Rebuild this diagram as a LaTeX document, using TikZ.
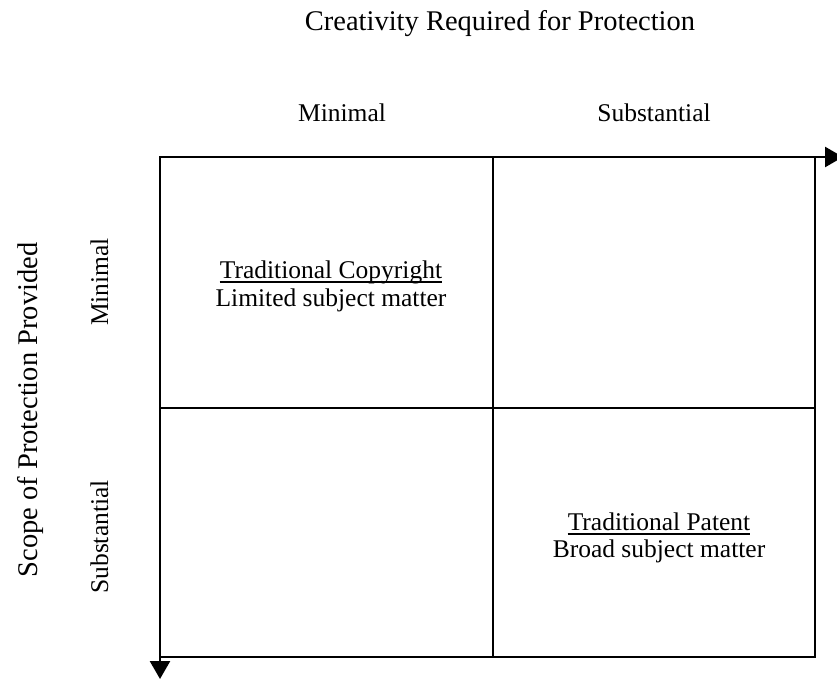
\documentclass[tikz,border=0pt]{standalone}
\usepackage{fontspec}
\setmainfont{Liberation Serif}
\usetikzlibrary{arrows.meta}

\tikzset{
  lbl/.style={font=\fontsize{25.5}{28}\selectfont, inner sep=0pt, anchor=base},
  axislbl/.style={font=\fontsize{28.5}{32}\selectfont, inner sep=0pt, anchor=base},
  axis/.style={line width=2.6pt, miter limit=10,
    {Triangle[length=18pt,width=20pt]}-{Triangle[length=18pt,width=20pt]}},
  gridline/.style={line width=2pt},
  uline/.style={line width=1.3pt}
}

\begin{document}
\begin{tikzpicture}[x=1pt,y=-1pt]
        \useasboundingbox (0,0) rectangle (837,679);

        \coordinate (o) at (160,157);
        \coordinate (xend) at (843,157);
        \coordinate (yend) at (160,679);
        \coordinate (tr) at (815,157);
        \coordinate (bl) at (160,657);
        \coordinate (br) at (815,657);
        \coordinate (mt) at (493,157);
        \coordinate (mb) at (493,657);
        \coordinate (ml) at (160,408);
        \coordinate (mr) at (815,408);

        \draw[gridline] (mt) -- (mb);
        \draw[gridline] (ml) -- (mr);
        \draw[gridline] (tr) -- (br) -- (bl);
        \draw[axis] (yend) -- (o) -- (xend);

        \node[axislbl] (title) at (500,31) {Creativity Required for Protection};
        \node[lbl] (colmin) at (342,122) {Minimal};
        \node[lbl] (colsub) at (654,122) {Substantial};
        \node[axislbl, rotate=90] (rowtitle) at (37,410) {Scope of Protection Provided};
        \node[lbl, rotate=90] (rowmin) at (108,282) {Minimal};
        \node[lbl, rotate=90] (rowsub) at (108,537) {Substantial};

        \node[lbl] (copyhead) at (331,278) {Traditional Copyright};
        \node[lbl] (copytext) at (331,306) {Limited subject matter};
        \node[lbl] (pathead) at (659,530) {Traditional Patent};
        \node[lbl] (pattext) at (659,557) {Broad subject matter};
        \draw[uline] ([yshift=-4pt]copyhead.base west) -- ([yshift=-4pt]copyhead.base east);
        \draw[uline] ([yshift=-4pt]pathead.base west) -- ([yshift=-4pt]pathead.base east);

    \end{tikzpicture}
\end{document}
